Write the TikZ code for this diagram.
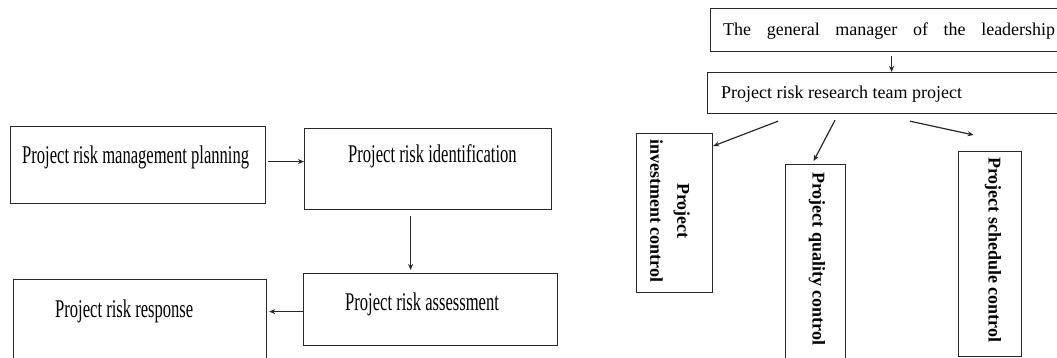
\documentclass[tikz,border=0pt]{standalone}
\usepackage{fontspec}
\setmainfont{Liberation Serif}
\newfontfamily\condfont[FakeStretch=0.65]{Liberation Serif}
\usetikzlibrary{arrows.meta}
\definecolor{linec}{RGB}{40,40,40}
\begin{document}
\begin{tikzpicture}[x=1pt,y=-1pt,
  box/.style={draw=linec, line width=1.2pt, inner sep=0pt, anchor=north west},
  lt/.style={font=\condfont\fontsize{25.5}{30}\selectfont, inner sep=0pt, anchor=base west},
  rt/.style={font=\fontsize{18}{22}\selectfont, inner sep=0pt, anchor=base west},
  vt/.style={font=\bfseries\fontsize{18}{27}\selectfont, inner sep=0pt, rotate=-90},
  arr/.style={draw=linec, line width=1.2pt, -{Stealth[length=6pt,width=5pt]}}]
\useasboundingbox (0,0) rectangle (1057,358);
\clip (0,0) rectangle (1057,358);
% left chart
\node[box, minimum width=255pt, minimum height=77pt] (A) at (10,126) {};
\node[box, minimum width=247pt, minimum height=81pt] (B) at (304,128) {};
\node[box, minimum width=254pt, minimum height=72pt] (C) at (303,273) {};
\node[box, minimum width=253.5pt, minimum height=100pt] (D) at (12.5,279) {};
\node[lt] (At) at (22,164) {Project risk management planning};
\node[lt] (Bt) at (348,163) {Project risk identification};
\node[lt] (Ct) at (345,310) {Project risk assessment};
\node[lt] (Dt) at (55,317) {Project risk response};
\draw[arr] ([xshift=2pt,yshift=3.5pt]A.east) -- ([yshift=7.5pt]B.west);
\draw[arr] ([xshift=-17.5pt,yshift=-6pt]B.south) -- ([xshift=-20pt,yshift=3pt]C.north);
\draw[arr] ([yshift=-2pt]C.west) -- ([xshift=2pt,yshift=18pt]D.east);
% right chart
\node[box, minimum width=360pt, minimum height=43pt] (T) at (710,8) {};
\node[box, minimum width=360pt, minimum height=41pt] (R) at (707,72) {};
\node[box, minimum width=76pt, minimum height=159pt] (I) at (636,133) {};
\node[box, minimum width=60pt, minimum height=220pt] (Q) at (785,164) {};
\node[box, minimum width=63pt, minimum height=205pt] (S) at (958,151) {};
\node[rt] (Tt) at (723,36) {\makebox[332pt][s]{The general manager of the leadership}};
\node[rt] (Rt) at (721,99) {Project risk research team project};
\node[vt, align=center] (It) at (670,211) {Project\\investment control};
\node[vt, anchor=west] (Qt) at (817,172) {Project quality control};
\node[vt, anchor=west] (St) at (993,157) {Project schedule control};
\draw[arr] ([xshift=1pt,yshift=-4pt]T.south) -- ([xshift=4pt]R.north);
\draw[arr] ([xshift=71pt,yshift=-7pt]R.south west) -- ([yshift=-13pt]I.north east);
\draw[arr] ([xshift=128pt,yshift=-6pt]R.south west) -- ([xshift=-2pt,yshift=3pt]Q.north);
\draw[arr] ([xshift=203pt,yshift=-7pt]R.south west) -- ([xshift=-16.5pt,yshift=16pt]S.north);
\end{tikzpicture}
\end{document}
